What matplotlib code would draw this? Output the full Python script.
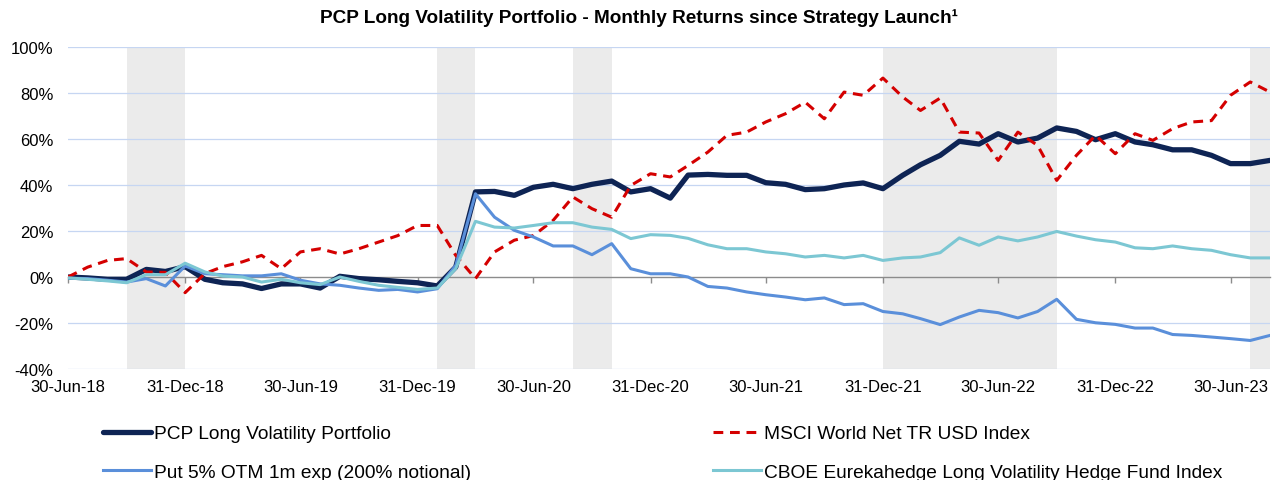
import numpy as np
import pandas as pd
import matplotlib
matplotlib.use('Agg')
import matplotlib.pyplot as plt
import matplotlib.dates as mdates

plt.rcParams['font.family'] = ['Liberation Sans', 'DejaVu Sans']

# month-end dates, Jun-18 .. Aug-23
dates = pd.date_range('2018-06-30', periods=63, freq='ME')

# cumulative returns in %
pcp = [0, -0.4, -1, -1, 3.3, 2.4, 4.5, -1, -2.5, -3, -5, -3, -3, -4.8, 0.3, -0.7,
       -1.2, -1.9, -2.5, -3.9, 4.3, 37, 37.2, 35.5, 39, 40.3, 38.4, 40.3, 41.7, 37,
       38.4, 34.3, 44.3, 44.6, 44.2, 44.2, 41, 40.3, 38, 38.4, 40, 40.9, 38.4, 44.2,
       48.8, 52.9, 59, 57.8, 62.3, 58.7, 60.4, 64.8, 63.3, 59.7, 62.3, 58.7, 57.5,
       55.3, 55.3, 52.9, 49.3, 49.3, 50.7]
msci = [0, 4.3, 7.2, 8, 2.2, 2, -6.8, 1.5, 4.5, 6.6, 9.4, 3.6, 10.9, 12.3, 10, 12.3,
        15.2, 18, 22.4, 22.4, 9.4, -0.7, 10.9, 16, 18, 24.6, 34.8, 29.7, 26, 39.8,
        44.9, 43.5, 48.5, 54.3, 61.6, 63, 67.4, 71, 76, 68.8, 80.4, 79, 86.5, 78.3,
        72.4, 77.8, 63, 62.6, 50.7, 63, 57.2, 42, 52.9, 61.6, 53.6, 62.3, 59.4, 64.5,
        67.4, 68, 79, 84.8, 80.4]
put = [-0.5, -0.7, -1.4, -2.2, -0.7, -3.9, 4.8, 1.4, 1, 0.5, 0.5, 1.4, -1.4, -3, -3.6,
       -4.8, -5.8, -5.4, -6.5, -5.1, 5, 36.2, 26, 20.3, 17.4, 13.5, 13.5, 9.7, 14.5,
       3.6, 1.4, 1.4, 0, -4.1, -4.8, -6.5, -7.7, -8.7, -9.9, -9.1, -12, -11.6, -15,
       -16, -18.1, -20.7, -17.4, -14.5, -15.5, -17.8, -15, -9.7, -18.4, -19.9, -20.6,
       -22.2, -22.2, -25, -25.4, -26.1, -26.8, -27.6, -25.4]
cboe = [-0.4, -1, -1.7, -2.5, 1, 1, 6, 2.2, 0.4, 0, -2.2, -1, -2.5, -3.3, 0, -1.9,
        -3.6, -4.5, -5.4, -4.8, 3.6, 24.2, 21.7, 21.3, 22.4, 23.6, 23.6, 21.7, 20.7,
        16.7, 18.4, 18.1, 16.8, 14, 12.3, 12.3, 10.9, 10.1, 8.7, 9.4, 8.3, 9.4, 7.2,
        8.3, 8.7, 10.6, 17, 13.8, 17.4, 15.7, 17.4, 19.8, 17.8, 16.2, 15.2, 12.7,
        12.3, 13.5, 12.3, 11.6, 9.7, 8.3, 8.3]

# shaded periods (start, end)
shade_start = ['2018-09-30', '2020-01-31', '2020-08-31', '2021-12-31', '2023-07-31']
shade_end = ['2018-12-31', '2020-03-31', '2020-10-31', '2022-09-30', '2023-08-31']

tick_dates = pd.date_range('2018-06-30', '2023-06-30', freq='6ME')
yticks = np.arange(-40, 101, 20)

fig = plt.figure(figsize=(12.78, 4.81), dpi=100)
ax = fig.add_axes([68 / 1278, 1 - 370 / 481, 1202 / 1278, 322 / 481])

for s, e in zip(shade_start, shade_end):
    ax.axvspan(pd.Timestamp(s), pd.Timestamp(e), color='#EBEBEB', lw=0, zorder=0)

for yv in yticks:
    if yv != 0:
        ax.axhline(yv, color='#C6D6F2', lw=0.9, zorder=1)

l1, = ax.plot(dates, pcp, color='#0E2454', lw=3.8, solid_capstyle='round', zorder=3,
              label='PCP Long Volatility Portfolio')
l2, = ax.plot(dates, msci, color='#D40000', lw=2.2, dashes=(3.2, 2.2), zorder=4,
              label='MSCI World Net TR USD Index')
l3, = ax.plot(dates, put, color='#5A8FDA', lw=2.2, zorder=5,
              label='Put 5% OTM 1m exp (200% notional)')
l4, = ax.plot(dates, cboe, color='#7CC7D3', lw=2.2, zorder=6,
              label='CBOE Eurekahedge Long Volatility Hedge Fund Index')

ax.set_xlim(dates[0], dates[-1])
ax.set_ylim(-40, 100)
ax.set_yticks(yticks)
ax.set_yticklabels([f'{v}%' for v in yticks])
ax.set_xticks(tick_dates)
ax.xaxis.set_major_formatter(mdates.DateFormatter('%d-%b-%y'))
ax.tick_params(axis='both', length=0, labelsize=12, colors='#000000')
ax.tick_params(axis='y', pad=10.5)
ax.tick_params(axis='x', pad=7)
for sp in ax.spines.values():
    sp.set_visible(False)

# zero line with tick marks
zax = ax.secondary_xaxis(40 / 140)
zax.set_xticks(tick_dates)
zax.set_xticklabels([])
zax.tick_params(length=4, color='#8C8C8C', width=1)
zax.spines['bottom'].set_color('#8C8C8C')
zax.spines['bottom'].set_linewidth(1)

fig.text(0.5, 1 - 18 / 481,
         'PCP Long Volatility Portfolio - Monthly Returns since Strategy Launch¹',
         fontsize=13.7, fontweight='bold', ha='center', va='center')

leg_kw = dict(loc='upper left', frameon=False, fontsize=13.8, handlelength=2.5,
              handletextpad=0.15, labelspacing=1.1, borderpad=0, borderaxespad=0)
fig.legend(handles=[l1, l3], bbox_to_anchor=(103 / 1278, 1 - 426 / 481), **leg_kw)
fig.legend(handles=[l2, l4], bbox_to_anchor=(713 / 1278, 1 - 426 / 481), **leg_kw)

fig.savefig('out.png', dpi=100)
